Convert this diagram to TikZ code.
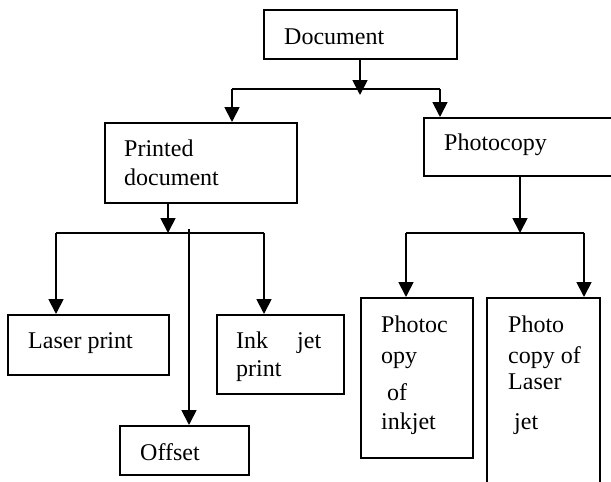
\documentclass[tikz,border=0pt]{standalone}
\usepackage{fontspec}
\setmainfont{Liberation Serif}
\usetikzlibrary{arrows.meta}
\begin{document}
\begin{tikzpicture}[x=1pt,y=-1pt,
  box/.style={draw,line width=1.8pt,rectangle,inner sep=0pt,anchor=north west},
  txt/.style={anchor=base west,inner sep=0pt,font=\fontsize{24}{26}\selectfont},
  conn/.style={line width=1.8pt},
  arr/.style={line width=1.8pt,-{Triangle[length=15pt,width=15pt]}}]
\useasboundingbox (0,0) rectangle (611,482);
% boxes
\node[box,minimum width=193pt,minimum height=49pt] (doc) at (263,9) {};
\node[box,minimum width=192pt,minimum height=80pt] (pd) at (104,122) {};
\node[box,minimum width=200pt,minimum height=58pt] (pc) at (423,117) {};
\node[box,minimum width=161pt,minimum height=60pt] (laser) at (7,314) {};
\node[box,minimum width=127pt,minimum height=79pt] (ink) at (216,314) {};
\node[box,minimum width=129pt,minimum height=49pt] (off) at (119,425) {};
\node[box,minimum width=112pt,minimum height=160pt] (pci) at (360,297) {};
\node[box,minimum width=113pt,minimum height=200pt] (pcl) at (486,297) {};
% texts
\node[txt] (tdoc) at (284,44) {Document};
\node[txt] (tpd) at (124,156) {\parbox[t]{6cm}{Printed\\[3pt]document}};
\node[txt] (tpc) at (444,150) {Photocopy};
\node[txt] (tlaser) at (28,348) {Laser print};
\node[txt] (tink) at (236,348) {\parbox[t]{6cm}{Ink\hspace{29pt}jet\\[2pt]print}};
\node[txt] (toff) at (140,460) {Offset};
\node[txt] (tpci) at (381,332) {\parbox[t]{4cm}{Photoc\\[5pt]opy\\[11pt]\hspace*{6pt}of\\[3pt]inkjet}};
\node[txt] (tpcl) at (508,332) {\parbox[t]{4cm}{Photo\\[5pt]copy of\\Laser\\[14pt]\hspace*{6pt}jet}};
% junction coordinates
\coordinate (j1) at (360,89);
\coordinate (j1l) at (232,89);
\coordinate (j1r) at (440,89);
\coordinate (j2) at (168,233);
\coordinate (j2l) at (56,233);
\coordinate (j2r) at (264,233);
\coordinate (j2o) at (189,229);
\coordinate (j3) at (520,233);
\coordinate (j3l) at (406,233);
\coordinate (j3r) at (584,233);
% connectors
\draw[arr] (doc.south -| j1) -- ([yshift=-6pt]j1);
\draw[conn] (j1l) -- (j1r);
\draw[arr] (j1l) -- (j1l |- pd.north);
\draw[arr] (j1r) -- (j1r |- pc.north);
\draw[arr] (pd.south -| j2) -- (j2);
\draw[conn] (j2l) -- (j2r);
\draw[arr] (j2l) -- (j2l |- laser.north);
\draw[arr] (j2r) -- (j2r |- ink.north);
\draw[arr] (j2o) -- (j2o |- off.north);
\draw[arr] (pc.south -| j3) -- (j3);
\draw[conn] (j3l) -- (j3r);
\draw[arr] (j3l) -- (j3l |- pci.north);
\draw[arr] (j3r) -- (j3r |- pcl.north);
\end{tikzpicture}
\end{document}
